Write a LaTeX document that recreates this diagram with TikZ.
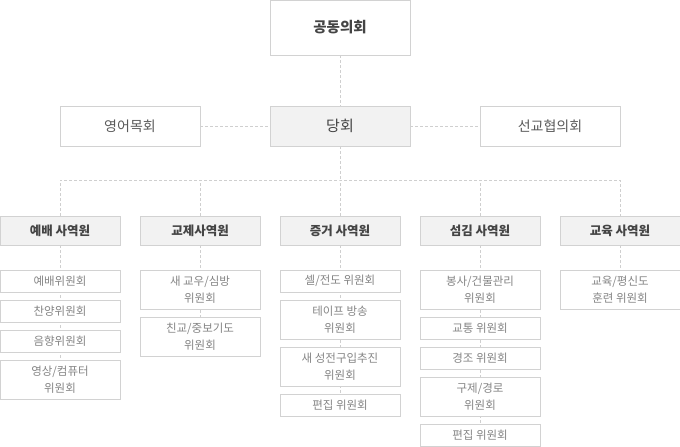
\documentclass[tikz,border=0pt]{standalone}
\usepackage{fontspec}
\usepackage{tikz}
\usetikzlibrary{positioning,backgrounds}
\setmainfont{Noto Sans CJK KR}

\definecolor{boxline}{HTML}{D2D2D2}
\definecolor{boxfill}{HTML}{F2F2F2}
\definecolor{dashline}{HTML}{CFCFCF}
\definecolor{darktext}{HTML}{444444}
\definecolor{midtext}{HTML}{5A5A5A}
\definecolor{lighttext}{HTML}{858585}

\begin{document}
\begin{tikzpicture}[x=1pt,y=-1pt]
  \useasboundingbox (0,0) rectangle (680,447);

  \tikzset{
    big box/.style={draw=boxline, line width=1pt, fill=white, outer sep=0pt,
      minimum width=140pt, minimum height=40pt, text=midtext,
      font=\fontsize{14}{17}\selectfont},
    head box/.style={draw=boxline, line width=1pt, fill=boxfill, outer sep=0pt,
      minimum width=120pt, minimum height=29pt, text=darktext,
      font=\bfseries\fontsize{12.5}{15}\selectfont},
    sub box/.style={draw=boxline, line width=1pt, fill=white, outer sep=0pt,
      minimum width=120pt, minimum height=22pt, text=lighttext, align=center,
      inner sep=2pt, font=\fontsize{11.5}{17}\selectfont},
    two line/.style={minimum height=39pt}
  }

  % top
  \node[big box, minimum height=55pt, text=darktext, font=\bfseries\fontsize{14.5}{17}\selectfont]
    (top) at (340,27.5) {공동의회};

  \node[big box] (eng) at (130,126) {영어목회};
  \node[big box, fill=boxfill, text=darktext, font=\fontsize{15}{17}\selectfont]
    (dang) at (340,126) {당회};
  \node[big box] (mis) at (550,126) {선교협의회};

  % ministries
  \node[head box] (h1) at (60,230.5)  {예배 사역원};
  \node[head box] (h2) at (200,230.5) {교제사역원};
  \node[head box] (h3) at (340,230.5) {증거 사역원};
  \node[head box] (h4) at (480,230.5) {섬김 사역원};
  \node[head box] (h5) at (620,230.5) {교육 사역원};

  % committees
  \node[sub box, anchor=north] (11) at (60,270) {예배위원회};
  \node[sub box, below=8pt of 11] (12) {찬양위원회};
  \node[sub box, below=8pt of 12] (13) {음향위원회};
  \node[sub box, two line, below=8pt of 13] (14) {영상/컴퓨터\\위원회};

  \node[sub box, two line, anchor=north] (21) at (200,270) {새 교우/심방\\위원회};
  \node[sub box, two line, below=8pt of 21] (22) {친교/중보기도\\위원회};

  \node[sub box, anchor=north] (31) at (340,270) {셀/전도 위원회};
  \node[sub box, two line, below=8pt of 31] (32) {테이프 방송\\위원회};
  \node[sub box, two line, below=8pt of 32] (33) {새 성전구입추진\\위원회};
  \node[sub box, below=8pt of 33] (34) {편집 위원회};

  \node[sub box, two line, anchor=north] (41) at (480,270) {봉사/건물관리\\위원회};
  \node[sub box, below=8pt of 41] (42) {교통 위원회};
  \node[sub box, below=8pt of 42] (43) {경조 위원회};
  \node[sub box, two line, below=8pt of 43] (44) {구제/경로\\위원회};
  \node[sub box, below=8pt of 44] (45) {편집 위원회};

  \node[sub box, two line, anchor=north] (51) at (620,270) {교육/평신도\\훈련 위원회};

  \coordinate (bus) at (340,180);

  \tikzset{dash line/.style={draw=dashline, line width=1pt, dash pattern=on 3pt off 2pt}}

  \begin{scope}[on background layer]
    \draw[dash line] (top) -- (dang);
    \draw[dash line] (eng) -- (dang);
    \draw[dash line] (dang) -- (mis);
    \draw[dash line] (dang) -- (bus);
    \draw[dash line] (h1.north) |- (bus) -| (h5.north);
    \draw[dash line] (h2.north) -- (h2.north |- bus);
    \draw[dash line] (h4.north) -- (h4.north |- bus);
    \draw[dash line] (h3.north) -- (bus);

    \draw[dash line] (h1) -- (14);
    \draw[dash line] (h2) -- (22);
    \draw[dash line] (h3) -- (34);
    \draw[dash line] (h4) -- (45);
    \draw[dash line] (h5) -- (51);
  \end{scope}

\end{tikzpicture}
\end{document}
